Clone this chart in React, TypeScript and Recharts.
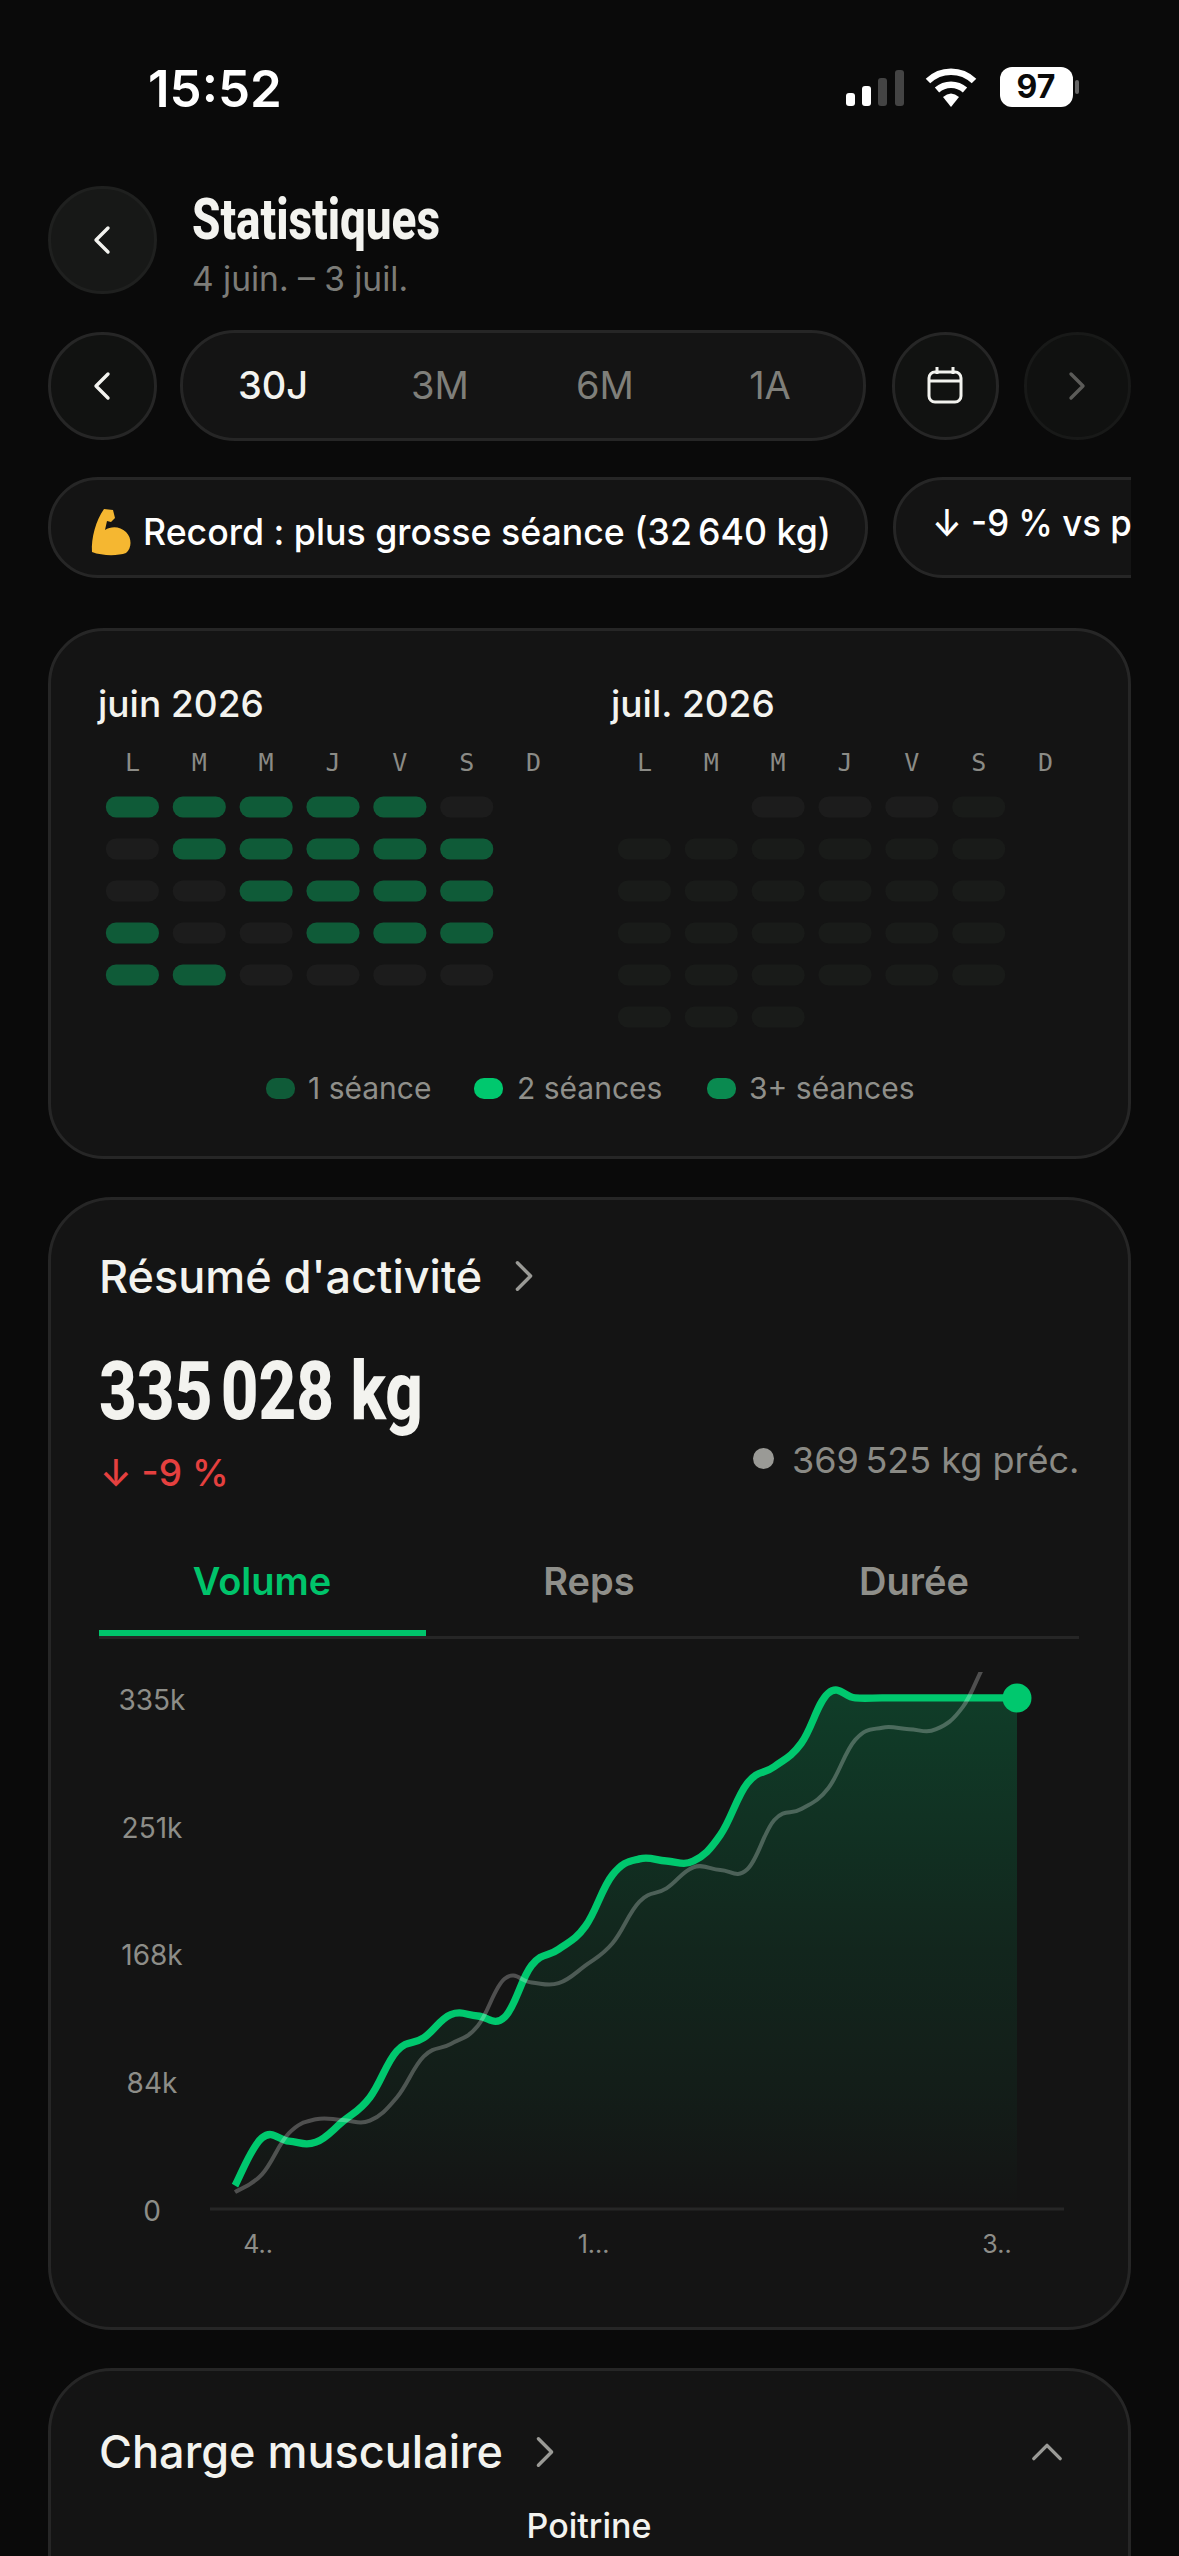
import React from 'react';
import {
  Area,
  ComposedChart,
  Line,
  ReferenceDot,
  Scatter,
  ScatterChart,
  XAxis,
  YAxis,
} from 'recharts';

const UI_FONT = 'Inter, "Noto Sans", sans-serif';
const CONDENSED_FONT = 'Roboto, sans-serif';

// cumulative volume, one value per day from 4 June to 3 July
const dayLabels = [
  '4 juin', '5 juin', '6 juin', '7 juin', '8 juin', '9 juin', '10 juin', '11 juin', '12 juin', '13 juin',
  '14 juin', '15 juin', '16 juin', '17 juin', '18 juin', '19 juin', '20 juin', '21 juin', '22 juin', '23 juin',
  '24 juin', '25 juin', '26 juin', '27 juin', '28 juin', '29 juin', '30 juin', '1 juil', '2 juil', '3 juil',
];
const currentVolume = [
  15300, 46600, 44500, 43800, 57400, 73100, 103500, 112200, 127400, 126500,
  125800, 159700, 170300, 185500, 219000, 229500, 228100, 228100, 245200, 279100,
  290000, 305300, 338100, 335028, 335028, 335028, 335028, 335028, 335028, 335028,
];
const previousVolume = [
  11100, 22700, 49700, 58800, 58300, 57900, 73100, 100000, 108200, 119900,
  150900, 148500, 148000, 159700, 174200, 201500, 210200, 224000, 222200, 222700,
  255000, 262200, 275800, 307500, 315500, 314500, 314500, 329300, 362100, 369525,
];
const yTicks = [0, 84000, 168000, 251000, 335028];
const yTickLabels = ['0', '84k', '168k', '251k', '335k'];
const xTickDays = ['4 juin', '17 juin', '3 juil'];
const xTickLabels = ['4..', '1...', '3..'];
const xTickShift = [23, 8, -20];

const volumeData = dayLabels.map((day, i) => ({
  day,
  current: currentVolume[i],
  previous: previousVolume[i],
}));

// calendar cells: level 0 = rest day, -1 = day still to come
const weekDays = ['L', 'M', 'M', 'J', 'V', 'S', 'D'];
const juneLevels = [
  [1, 1, 1, 1, 1, 0],
  [0, 1, 1, 1, 1, 1],
  [0, 0, 1, 1, 1, 1],
  [1, 0, 0, 1, 1, 1],
  [1, 1, 0, 0, 0, 0],
];
const julyLevels = [
  [null, null, 0, 0, 0, -1],
  [-1, -1, -1, -1, -1, -1],
  [-1, -1, -1, -1, -1, -1],
  [-1, -1, -1, -1, -1, -1],
  [-1, -1, -1, -1, -1, -1],
  [-1, -1, -1],
];
const levelColors: Record<string, string> = {
  '-1': '#191b19',
  '0': '#1c1c1c',
  '1': '#0f5b38',
};

function toCells(levels: (number | null)[][]) {
  const cells: { col: number; row: number; level: number }[] = [];
  levels.forEach((week, row) =>
    week.forEach((level, col) => {
      if (level !== null) cells.push({ col, row, level });
    }),
  );
  return cells;
}

// catmull-rom style curve: rounds each knot without the ringing of "natural" on the flat tail
const TANGENT = 1 / 5;

function softCurve(context: any) {
  let pts: [number, number][] = [];
  let line = NaN;
  return {
    areaStart() {
      line = 0;
    },
    areaEnd() {
      line = NaN;
    },
    lineStart() {
      pts = [];
    },
    point(x: number, y: number) {
      pts.push([+x, +y]);
    },
    lineEnd() {
      pts.forEach((p, i) => {
        if (i === 0) {
          if (line) context.lineTo(p[0], p[1]);
          else context.moveTo(p[0], p[1]);
          return;
        }
        const a = pts[i - 2] ?? pts[i - 1];
        const b = pts[i - 1];
        const d = pts[i + 1] ?? p;
        context.bezierCurveTo(
          b[0] + (p[0] - a[0]) * TANGENT,
          b[1] + (p[1] - a[1]) * TANGENT,
          p[0] - (d[0] - b[0]) * TANGENT,
          p[1] - (d[1] - b[1]) * TANGENT,
          p[0],
          p[1],
        );
      });
      if (line === 1) context.closePath();
      line = 1 - line;
    },
  };
}

function CalendarCell(props: any) {
  const { cx, cy, payload } = props;
  return (
    <rect
      x={cx - 26.5}
      y={cy - 10.5}
      width={53}
      height={21}
      rx={10}
      fill={levelColors[String(payload.level)]}
    />
  );
}

function MonthGrid({ left, levels }: { left: number; levels: (number | null)[][] }) {
  return (
    <div style={{ position: 'absolute', left, top: 740 }}>
      <ScatterChart width={468} height={298} margin={{ top: 0, right: 0, bottom: 0, left: 0 }}>
        <XAxis
          type="number"
          dataKey="col"
          orientation="top"
          domain={[-0.5, 6.5]}
          ticks={[0, 1, 2, 3, 4, 5, 6]}
          interval={0}
          height={46}
          axisLine={false}
          tickLine={false}
          tick={(p: any) => (
            <text
              x={p.x}
              y={22}
              dy={9}
              textAnchor="middle"
              fill="#8b8b86"
              fontSize={25}
              fontFamily='"DejaVu Sans Mono", monospace'
            >
              {weekDays[p.payload.value]}
            </text>
          )}
        />
        <YAxis type="number" dataKey="row" domain={[-0.5, 5.5]} reversed hide />
        <Scatter data={toCells(levels)} shape={CalendarCell} isAnimationActive={false} />
      </ScatterChart>
    </div>
  );
}

function VolumeYTick(props: any) {
  const i = yTicks.indexOf(props.payload.value);
  return (
    <text x={152} y={props.y} dy={12} textAnchor="middle" fill="#8d8d88" fontSize={28} fontFamily={UI_FONT}>
      {yTickLabels[i]}
    </text>
  );
}

function VolumeXTick(props: any) {
  const i = xTickDays.indexOf(props.payload.value);
  return (
    <text
      x={props.x + xTickShift[i]}
      y={2244}
      dy={9}
      transform="translate(0,-1600)"
      textAnchor="middle"
      fill="#8d8d88"
      fontSize={25}
      fontFamily={UI_FONT}
    >
      {xTickLabels[i]}
    </text>
  );
}

function VolumeChart() {
  return (
    <div style={{ position: 'absolute', left: 0, top: 1600 }}>
      <ComposedChart
        width={1179}
        height={700}
        data={volumeData}
        margin={{ top: 72, right: 115, bottom: 0, left: 0 }}
      >
        <defs>
          <linearGradient id="volumeFill" x1="0" y1="0" x2="0" y2="1">
            <stop offset="0%" stopColor="#00c86e" stopOpacity={0.23} />
            <stop offset="50%" stopColor="#00c86e" stopOpacity={0.1} />
            <stop offset="78%" stopColor="#00c86e" stopOpacity={0.05} />
            <stop offset="100%" stopColor="#00c86e" stopOpacity={0} />
          </linearGradient>
        </defs>
        <XAxis
          dataKey="day"
          ticks={xTickDays}
          interval={0}
          height={91}
          padding={{ left: 25, right: 47 }}
          axisLine={{ stroke: '#262626', strokeWidth: 3 }}
          tickLine={false}
          tick={VolumeXTick}
        />
        <YAxis
          width={210}
          domain={[0, 352000]}
          allowDataOverflow
          ticks={yTicks}
          interval={0}
          axisLine={false}
          tickLine={false}
          tick={VolumeYTick}
        />
        <Area
          dataKey="current"
          type={softCurve as any}
          stroke="#00c86e"
          strokeWidth={7.3}
          fill="url(#volumeFill)"
          fillOpacity={1}
          dot={false}
          activeDot={false}
          isAnimationActive={false}
        />
        <Line
          dataKey="previous"
          type={softCurve as any}
          stroke="#ffffff"
          strokeOpacity={0.25}
          strokeWidth={4}
          dot={false}
          activeDot={false}
          isAnimationActive={false}
        />
        <ReferenceDot
          x={dayLabels[dayLabels.length - 1]}
          y={currentVolume[currentVolume.length - 1]}
          r={14.5}
          fill="#00c86e"
          stroke="none"
        />
      </ComposedChart>
    </div>
  );
}

type LabelProps = {
  x: number;
  y: number;
  size: number;
  color?: string;
  weight?: number;
  center?: boolean;
  font?: string;
  squeeze?: number;
  children: React.ReactNode;
};

function Label({ x, y, size, color = '#f3f3ef', weight = 400, center, font = UI_FONT, squeeze = 1, children }: LabelProps) {
  return (
    <div
      style={{
        position: 'absolute',
        left: x,
        top: y,
        fontSize: size,
        lineHeight: 1,
        color,
        fontWeight: weight,
        fontFamily: font,
        whiteSpace: 'nowrap',
        transformOrigin: '0 50%',
        transform: `${center ? 'translateX(-50%) ' : ''}translateY(-50%) scaleX(${squeeze})`,
      }}
    >
      {children}
    </div>
  );
}

function Box({ left, top, width, height, radius, bg = '#141414', border = '#262626' }: any) {
  return (
    <div
      style={{
        position: 'absolute',
        left,
        top,
        width,
        height,
        boxSizing: 'border-box',
        borderRadius: radius,
        background: bg,
        border: `3px solid ${border}`,
      }}
    />
  );
}

function Chevron({ x, y, dir, color = '#f3f3ef', size = 10 }: { x: number; y: number; dir: string; color?: string; size?: number }) {
  const rot = { left: 180, right: 0, up: -90 }[dir];
  return (
    <svg style={{ position: 'absolute', left: x - 20, top: y - 20 }} width={40} height={40}>
      <polyline
        points={`${20 - size * 0.6},${20 - size * 1.2} ${20 + size * 0.6},20 ${20 - size * 0.6},${20 + size * 1.2}`}
        fill="none"
        stroke={color}
        strokeWidth={3.4}
        strokeLinecap="round"
        strokeLinejoin="round"
        transform={`rotate(${rot} 20 20)`}
      />
    </svg>
  );
}

function StatusBar() {
  const bars = [
    [846, 93, '#fff'],
    [862, 86, '#fff'],
    [878, 78, '#444'],
    [895, 70, '#444'],
  ];
  return (
    <>
      <Label x={148} y={88} size={51} weight={600} color="#fff">15:52</Label>
      {bars.map(([x, top, fill]) => (
        <div
          key={x as number}
          style={{
            position: 'absolute',
            left: x as number,
            top: top as number,
            width: 9,
            height: 106 - (top as number),
            borderRadius: 3,
            background: fill as string,
          }}
        />
      ))}
      <svg style={{ position: 'absolute', left: 924, top: 66 }} width={54} height={42} viewBox="0 0 54 42">
        <path d="M4 15 A33 33 0 0 1 50 15" fill="none" stroke="#fff" strokeWidth={6.5} />
        <path d="M13 24 A21 21 0 0 1 41 24" fill="none" stroke="#fff" strokeWidth={6.5} />
        <path d="M19 31 Q27 24 35 31 L27 41 Z" fill="#fff" />
      </svg>
      <div style={{ position: 'absolute', left: 1000, top: 67, width: 73, height: 40, borderRadius: 12, background: '#fff' }} />
      <Label x={1036} y={87} size={32} weight={700} color="#0a0a0a" center>97</Label>
      <div style={{ position: 'absolute', left: 1075, top: 80, width: 4, height: 14, borderRadius: 2, background: '#666' }} />
    </>
  );
}

function Header() {
  return (
    <>
      <Box left={48} top={186} width={109} height={108} radius={54} bg="#171817" border="#1f201f" />
      <Chevron x={102} y={240} dir="left" />
      <Label x={192} y={219} size={58} weight={800} font={CONDENSED_FONT} squeeze={0.79}>Statistiques</Label>
      <Label x={192} y={280} size={33.5} color="#7c7c78">4 juin. – 3 juil.</Label>

      <Box left={48} top={332} width={109} height={108} radius={54} bg="#111211" />
      <Chevron x={102} y={386} dir="left" />
      <Box left={180} top={330} width={686} height={111} radius={55} />
      <Label x={273} y={385} size={38} weight={500} center>30J</Label>
      <Label x={440} y={385} size={38} color="#7f7f7a" center>3M</Label>
      <Label x={605} y={385} size={38} color="#7f7f7a" center>6M</Label>
      <Label x={770} y={385} size={38} color="#7f7f7a" center>1A</Label>
      <Box left={892} top={332} width={107} height={108} radius={54} bg="#111211" />
      <svg style={{ position: 'absolute', left: 925, top: 366 }} width={40} height={40} fill="none" stroke="#f3f3ef" strokeWidth={3}>
        <rect x={4} y={6} width={32} height={30} rx={6} />
        <path d="M4 15 H36 M12 1 V8 M28 1 V8" />
      </svg>
      <Box left={1024} top={332} width={107} height={108} radius={54} bg="#101110" border="#181918" />
      <Chevron x={1077} y={386} dir="right" color="#5b5b58" />

      <Box left={48} top={477} width={820} height={101} radius={50} />
      <svg style={{ position: 'absolute', left: 90, top: 508 }} width={44} height={48} viewBox="0 0 44 48">
        <path
          d="M14 1 L23 2 L25 10 L21 14 L17 13 L15 22 C21 18 30 18 36 24 C42 30 42 40 36 45 C28 48 12 48 2 44 C1 30 6 12 14 1 Z"
          fill="#f5b731"
        />
      </svg>
      <Label x={143} y={531} size={37} weight={500} color="#fff" squeeze={0.965}>Record : plus grosse séance (32{'\u202f'}640 kg)</Label>
      <div
        style={{
          position: 'absolute',
          left: 893,
          top: 477,
          width: 238,
          height: 101,
          overflow: 'hidden',
        }}
      >
        <div
          style={{
            position: 'absolute',
            left: 0,
            top: 0,
            width: 400,
            height: 101,
            boxSizing: 'border-box',
            borderRadius: 50,
            background: '#141414',
            border: '3px solid #262626',
          }}
        />
        <Label x={39} y={45} size={37} weight={500} color="#fff" squeeze={0.94}>↓ -9 % vs p</Label>
      </div>
    </>
  );
}

function CalendarCard() {
  const legend = [
    [266, '#0f5b38', 308, '1 séance'],
    [474, '#00c86e', 517, '2 séances'],
    [707, '#0a8a50', 749, '3+ séances'],
  ];
  return (
    <>
      <Box left={48} top={628} width={1083} height={531} radius={56} />
      <Label x={98} y={703} size={37} weight={500}>juin 2026</Label>
      <Label x={611} y={703} size={37} weight={500}>juil. 2026</Label>
      <MonthGrid left={99} levels={juneLevels} />
      <MonthGrid left={611} levels={julyLevels} />
      {legend.map(([dotX, fill, textX, text]) => (
        <React.Fragment key={text as string}>
          <div
            style={{
              position: 'absolute',
              left: dotX as number,
              top: 1078,
              width: 29,
              height: 21,
              borderRadius: 10,
              background: fill as string,
            }}
          />
          <Label x={textX as number} y={1088} size={30} color="#8f8f8a">{text}</Label>
        </React.Fragment>
      ))}
    </>
  );
}

function ActivityCard() {
  return (
    <>
      <Box left={48} top={1197} width={1083} height={1133} radius={64} />
      <Label x={99} y={1276} size={45} weight={500}>Résumé d'activité</Label>
      <Chevron x={524} y={1276} dir="right" color="#9a9a96" size={11} />
      <Label x={99} y={1391} size={82} weight={800} font={CONDENSED_FONT} squeeze={0.8}>335{'\u202f'}028 kg</Label>
      <Label x={100} y={1472} size={37} weight={500} color="#e5403f">↓ -9 %</Label>
      <div style={{ position: 'absolute', left: 753, top: 1448, width: 21, height: 21, borderRadius: 11, background: '#9a9a96' }} />
      <Label x={792} y={1460} size={36} color="#8a8a85">369{'\u202f'}525 kg préc.</Label>
      <Label x={262} y={1581} size={38} weight={600} color="#00c46b" center>Volume</Label>
      <Label x={589} y={1581} size={38} weight={600} color="#8f8f8a" center>Reps</Label>
      <Label x={914} y={1581} size={38} weight={600} color="#8f8f8a" center>Durée</Label>
      <div style={{ position: 'absolute', left: 99, top: 1636, width: 980, height: 3, background: '#262626' }} />
      <div style={{ position: 'absolute', left: 99, top: 1630, width: 327, height: 6, background: '#00c46b' }} />
      <VolumeChart />
    </>
  );
}

function MuscleCard() {
  return (
    <>
      <Box left={48} top={2368} width={1083} height={300} radius={64} />
      <Label x={99} y={2451} size={45} weight={500}>Charge musculaire</Label>
      <Chevron x={545} y={2452} dir="right" color="#9a9a96" size={11} />
      <Chevron x={1047} y={2452} dir="up" color="#9a9a96" size={11} />
      <Label x={589} y={2526} size={34} weight={500} center>Poitrine</Label>
    </>
  );
}

export default function App() {
  return (
    <div
      style={{
        position: 'absolute',
        left: 0,
        top: 0,
        width: 1179,
        height: 2556,
        overflow: 'hidden',
        background: '#0a0a0a',
      }}
    >
      <StatusBar />
      <Header />
      <CalendarCard />
      <ActivityCard />
      <MuscleCard />
    </div>
  );
}
